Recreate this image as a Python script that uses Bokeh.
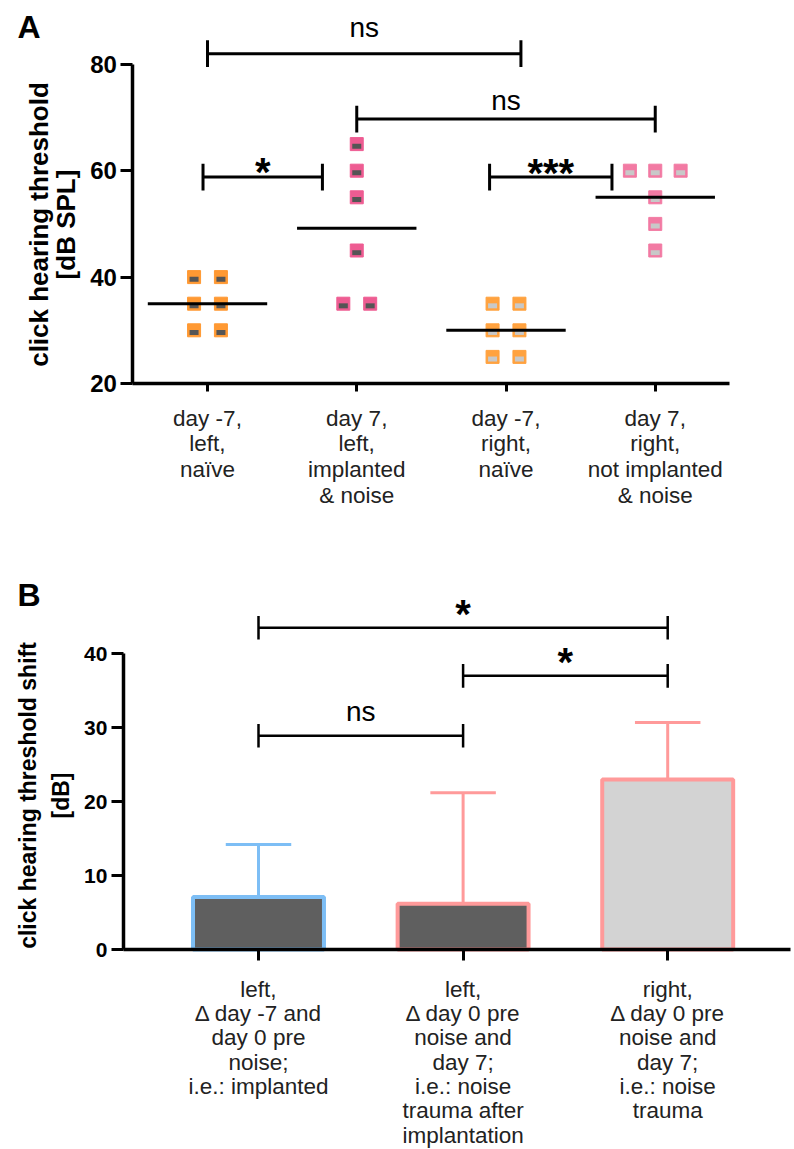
from bokeh.plotting import figure
from bokeh.models import FixedTicker
from bokeh.layouts import column
from bokeh.embed import file_html
from bokeh.resources import INLINE
from bokeh.core.properties import value
import numpy as np

FONT = "Liberation Sans"

# ---------------- Panel A data ----------------
cats_A = [
    "day -7,\nleft,\nnaïve",
    "day 7,\nleft,\nimplanted\n& noise",
    "day -7,\nright,\nnaïve",
    "day 7,\nright,\nnot implanted\n& noise",
]
ylabel_A = "click hearing threshold\n[dB SPL]"
ticks_A = [20, 40, 60, 80]
thr_left_pre = [40, 40, 35, 35, 30, 30]
thr_left_post = [65, 60, 55, 45, 35, 35]
thr_right_pre = [35, 35, 30, 30, 25, 25]
thr_right_post = [60, 60, 60, 55, 50, 45]
# horizontal beeswarm offsets (category units)
swarm_left_pre = [-0.09, 0.09, -0.09, 0.09, -0.09, 0.09]
swarm_left_post = [0, 0, 0, 0, -0.09, 0.09]
swarm_right_pre = [-0.09, 0.09, -0.09, 0.09, -0.09, 0.09]
swarm_right_post = [-0.17, 0, 0.17, 0, 0, 0]
marker_fill = ["#FF9933", "#EE5C92", "#FFA23F", "#F27AA3"]
marker_inner = ["#555555", "#555555", "#C8C8C8", "#C8C8C8"]

bracket_A_x1 = [0, 1, -0.03, 1.89]
bracket_A_x2 = [2.1, 3, 0.77, 2.71]
bracket_A_y = [82, 69.7, 58.8, 58.8]
bracket_A_text = ["ns", "ns", "*", "***"]
bracket_A_text_y = [86.9, 73.2, 59.8, 59.6]

# ---------------- Panel B data ----------------
cats_B = [
    "left,\nΔ day -7 and\nday 0 pre\nnoise;\ni.e.: implanted",
    "left,\nΔ day 0 pre\nnoise and\nday 7;\ni.e.: noise\ntrauma after\nimplantation",
    "right,\nΔ day 0 pre\nnoise and\nday 7;\ni.e.: noise\ntrauma",
]
ylabel_B = "click hearing threshold shift\n[dB]"
ticks_B = [0, 10, 20, 30, 40]
shift_mean = [7.1, 6.2, 23.0]
shift_sd = [7.1, 15.0, 7.7]
bar_fill = ["#5F5F5F", "#5F5F5F", "#D3D3D3"]
bar_edge = ["#7DBEF5", "#FF9A9A", "#FF9A9A"]

bracket_B_x1 = [0, 1, 0]
bracket_B_x2 = [2, 2, 1]
bracket_B_y = [43.5, 37.0, 28.9]
bracket_B_text = ["*", "*", "ns"]
bracket_B_text_y = [45.4, 38.9, 32.2]

# ---------------- canvas geometry (pixel <-> data) ----------------
A_W, A_H = 794, 560
A_X0, A_PXX = 207.0, 149.25     # pixel of category 0, pixels per category
A_Y20, A_PXY = 383.0, 5.32      # pixel of y=20, pixels per dB
xa_rng = (-A_X0 / A_PXX, (A_W - A_X0) / A_PXX)
ya_rng = (20 - (A_H - A_Y20) / A_PXY, 20 + A_Y20 / A_PXY)

B_W, B_H = 794, 589
B_X0, B_PXX = 258.0, 204.6
B_Y0, B_PXY = 389.0, 7.396
xb_rng = (-B_X0 / B_PXX, (B_W - B_X0) / B_PXX)
yb_rng = (-(B_H - B_Y0) / B_PXY, B_Y0 / B_PXY)


def xa(px): return xa_rng[0] + px / A_PXX
def ya(py): return ya_rng[1] - py / A_PXY
def xb(px): return xb_rng[0] + px / B_PXX
def yb(py): return yb_rng[1] - py / B_PXY


def make_fig(w, h, xr, yr):
    p = figure(width=w, height=h, x_range=xr, y_range=yr, title=None,
               output_backend="svg", toolbar_location=None,
               min_border_left=0, min_border_right=0, min_border_top=0, min_border_bottom=0)
    p.outline_line_color = None
    p.grid.visible = False
    return p


def style_axes(p, ytick_size, xtick_size, xline_h):
    for ax in (p.xaxis[0], p.yaxis[0]):
        ax.axis_line_width = 3.5
        ax.axis_line_color = "black"
        ax.major_tick_line_width = 3
        ax.major_tick_line_color = "black"
        ax.minor_tick_line_color = None
        ax.major_tick_in = 0
    p.yaxis.major_label_text_font = FONT
    p.yaxis.major_label_text_font_style = "bold"
    p.yaxis.major_label_text_font_size = ytick_size
    p.yaxis.major_label_text_color = "black"
    p.xaxis.major_label_text_font = FONT
    p.xaxis.major_label_text_font_size = xtick_size
    p.xaxis.major_label_text_color = "#222222"
    p.xaxis.major_label_text_line_height = xline_h


# ================= Panel A =================
pA = make_fig(A_W, A_H, xa_rng, ya_rng)
style_axes(pA, "24px", "22.5px", 1.03)
pA.yaxis.fixed_location = -0.5
pA.yaxis.ticker = FixedTicker(ticks=ticks_A)
pA.yaxis.bounds = (ticks_A[0], ticks_A[-1])
pA.yaxis.major_tick_out = 12
pA.yaxis.major_label_standoff = 4
pA.xaxis.fixed_location = ticks_A[0]
pA.xaxis.ticker = FixedTicker(ticks=list(range(len(cats_A))))
pA.xaxis.bounds = (-0.5, len(cats_A) - 0.5)
pA.xaxis.major_label_overrides = {i: c for i, c in enumerate(cats_A)}
pA.xaxis.major_tick_out = 8
pA.xaxis.major_label_standoff = 14

groups_A = [(thr_left_pre, swarm_left_pre), (thr_left_post, swarm_left_post),
            (thr_right_pre, swarm_right_pre), (thr_right_post, swarm_right_post)]
for i, (vals, offs) in enumerate(groups_A):
    xs = [i + o for o in offs]
    pA.scatter(xs, vals, marker="square", size=13, fill_color=marker_fill[i],
               line_color=marker_fill[i], line_width=1)
    pA.rect(xs, [v - 0.4 for v in vals], width=9, height=5, width_units="screen",
            height_units="screen", fill_color=marker_inner[i], line_color=None)
    m = float(np.mean(vals))
    pA.segment(x0=[i - 0.4], y0=[m], x1=[i + 0.4], y1=[m], line_color="black", line_width=3)

capA = 2.5
pA.segment(x0=bracket_A_x1, y0=bracket_A_y, x1=bracket_A_x2, y1=bracket_A_y,
           line_color="black", line_width=3)
pA.segment(x0=bracket_A_x1, y0=[y - capA for y in bracket_A_y], x1=bracket_A_x1,
           y1=[y + capA for y in bracket_A_y], line_color="black", line_width=3)
pA.segment(x0=bracket_A_x2, y0=[y - capA for y in bracket_A_y], x1=bracket_A_x2,
           y1=[y + capA for y in bracket_A_y], line_color="black", line_width=3)
midA = [(a + b) / 2 for a, b in zip(bracket_A_x1, bracket_A_x2)]
ns_idx = [k for k, t in enumerate(bracket_A_text) if t == "ns"]
st_idx = [k for k, t in enumerate(bracket_A_text) if t != "ns"]
pA.text(x=[midA[k] for k in ns_idx], y=[bracket_A_text_y[k] for k in ns_idx],
        text=[bracket_A_text[k] for k in ns_idx], text_align="center",
        text_baseline="alphabetic", text_font=value(FONT), text_font_size="28px",
        text_color="black")
pA.text(x=[midA[k] for k in st_idx], y=[bracket_A_text_y[k] for k in st_idx],
        text=[bracket_A_text[k] for k in st_idx], text_align="center",
        text_baseline="alphabetic", text_font=value(FONT), text_font_size="40px",
        text_font_style="bold", text_color="black")
# y axis title
pA.text(x=[xa(52)], y=[ya(224)], text=[ylabel_A], angle=np.pi / 2, text_align="center",
        text_baseline="middle", text_font=value(FONT), text_font_size="26px",
        text_font_style="bold", text_line_height=0.9, text_color="black")
# panel letter
pA.text(x=[xa(17)], y=[ya(26.8)], text=["A"], text_align="left", text_baseline="alphabetic",
        text_font=value(FONT), text_font_size="32px", text_font_style="bold", text_color="black")

# ================= Panel B =================
pB = make_fig(B_W, B_H, xb_rng, yb_rng)
style_axes(pB, "21px", "22.5px", 0.975)
pB.yaxis.fixed_location = -0.66
pB.yaxis.ticker = FixedTicker(ticks=ticks_B)
pB.yaxis.bounds = (ticks_B[0], ticks_B[-1])
pB.yaxis.major_tick_out = 12
pB.yaxis.major_label_standoff = 4
pB.xaxis.fixed_location = ticks_B[0]
pB.xaxis.ticker = FixedTicker(ticks=list(range(len(cats_B))))
pB.xaxis.bounds = (-0.66, 2.6)
pB.xaxis.major_label_overrides = {i: c for i, c in enumerate(cats_B)}
pB.xaxis.major_tick_out = 11
pB.xaxis.major_label_standoff = 16

xpos = list(range(len(shift_mean)))
err_top = [m + s for m, s in zip(shift_mean, shift_sd)]
pB.segment(x0=xpos, y0=shift_mean, x1=xpos, y1=err_top, line_color=bar_edge, line_width=3)
pB.segment(x0=[x - 0.16 for x in xpos], y0=err_top, x1=[x + 0.16 for x in xpos], y1=err_top,
           line_color=bar_edge, line_width=3)
pB.vbar(x=xpos, top=shift_mean, width=0.64, fill_color=bar_fill, line_color=bar_edge, line_width=4)

capB = 1.6
pB.segment(x0=bracket_B_x1, y0=bracket_B_y, x1=bracket_B_x2, y1=bracket_B_y,
           line_color="black", line_width=2.5)
pB.segment(x0=bracket_B_x1, y0=[y - capB for y in bracket_B_y], x1=bracket_B_x1,
           y1=[y + capB for y in bracket_B_y], line_color="black", line_width=2.5)
pB.segment(x0=bracket_B_x2, y0=[y - capB for y in bracket_B_y], x1=bracket_B_x2,
           y1=[y + capB for y in bracket_B_y], line_color="black", line_width=2.5)
midB = [(a + b) / 2 for a, b in zip(bracket_B_x1, bracket_B_x2)]
nsB = [k for k, t in enumerate(bracket_B_text) if t == "ns"]
stB = [k for k, t in enumerate(bracket_B_text) if t != "ns"]
pB.text(x=[midB[k] for k in nsB], y=[bracket_B_text_y[k] for k in nsB],
        text=[bracket_B_text[k] for k in nsB], text_align="center",
        text_baseline="alphabetic", text_font=value(FONT), text_font_size="28px",
        text_color="black")
pB.text(x=[midB[k] for k in stB], y=[bracket_B_text_y[k] for k in stB],
        text=[bracket_B_text[k] for k in stB], text_align="center",
        text_baseline="alphabetic", text_font=value(FONT), text_font_size="40px",
        text_font_style="bold", text_color="black")
pB.text(x=[xb(44)], y=[yb(235)], text=[ylabel_B], angle=np.pi / 2, text_align="center",
        text_baseline="middle", text_font=value(FONT), text_font_size="23px",
        text_font_style="bold", text_line_height=1.265, text_color="black")
pB.text(x=[xb(17)], y=[yb(34.8)], text=["B"], text_align="left", text_baseline="alphabetic",
        text_font=value(FONT), text_font_size="32px", text_font_style="bold", text_color="black")

layout = column(pA, pB, spacing=0)
open("out.html", "w").write(file_html(layout, INLINE))
